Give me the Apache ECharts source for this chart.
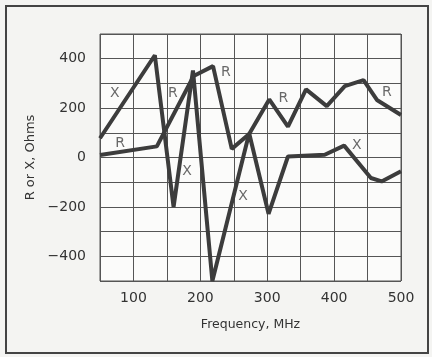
<!DOCTYPE html>
<html><head><meta charset="utf-8">
<script src="https://cdn.jsdelivr.net/npm/echarts@6/dist/echarts.min.js"></script>
<style>html,body{margin:0;padding:0;background:#f4f4f2;}#c{width:432px;height:357px;}</style>
</head><body><div id="c"></div>
<script>
// Frequency (MHz) and resistance R (Ohms)
const rFreq = [50, 135, 190, 219, 247, 273, 303, 331, 358, 389, 416, 444, 464, 500];
const rVals = [10, 45, 330, 370, 35, 95, 235, 125, 276, 208, 289, 313, 233, 172];
// Frequency (MHz) and reactance X (Ohms)
const xFreq = [50, 132, 160, 189, 218, 273, 302, 331, 386, 415, 455, 471, 500];
const xVals = [78, 414, -200, 352, -500, 98, -228, 4, 11, 48, -83, -97, -56];
// Curve annotations: frequency, value, text
const labFreq = [72, 80, 159, 180, 238, 264, 324, 434, 479];
const labVals = [261, 59, 261, -58, 345, -158, 240, 51, 265];
const labText = ['X', 'R', 'R', 'X', 'R', 'X', 'R', 'X', 'R'];
const yTicks = [-400, -200, 0, 200, 400];
const xTicks = [100, 200, 300, 400, 500];

const chart = echarts.init(document.getElementById('c'));
const fmtNum = v => (v < 0 ? '\u2212' + Math.abs(v) : String(v));
const lineStyle = {color: '#3c3c3c', width: 4};
chart.setOption({
  animation: false,
  backgroundColor: '#f4f4f2',
  graphic: [{type: 'rect', shape: {x: 6, y: 6, width: 422, height: 347},
    style: {fill: 'none', stroke: '#444', lineWidth: 2}}],
  grid: {left: 100, right: 31, top: 34, bottom: 76, show: true, borderColor: '#555', borderWidth: 1, backgroundColor: '#fbfbfa'},
  xAxis: {type: 'value', min: 50, max: 500, interval: 50,
    name: 'Frequency, MHz', nameLocation: 'middle', nameGap: 37,
    nameTextStyle: {fontFamily: 'DejaVu Sans', fontSize: 12.5, color: '#333'},
    axisLine: {show: false}, axisTick: {show: false},
    splitLine: {show: true, lineStyle: {color: '#555', width: 1}},
    axisLabel: {fontFamily: 'DejaVu Sans', fontSize: 14, color: '#333', margin: 10,
      formatter: v => xTicks.includes(v) ? String(v) : ''}},
  yAxis: {type: 'value', min: -500, max: 500, interval: 100,
    name: 'R or X, Ohms', nameLocation: 'middle', nameGap: 57, nameRotate: 90,
    nameTextStyle: {fontFamily: 'DejaVu Sans', fontSize: 13, color: '#333'},
    axisLine: {show: false}, axisTick: {show: false},
    splitLine: {show: true, lineStyle: {color: '#555', width: 1}},
    axisLabel: {fontFamily: 'DejaVu Sans', fontSize: 14, color: '#333', margin: 14,
      formatter: v => yTicks.includes(v) ? fmtNum(v) : ''}},
  series: [
    {type: 'line', name: 'R', data: rFreq.map((f, i) => [f, rVals[i]]), showSymbol: false,
      lineStyle: lineStyle, itemStyle: {color: '#3c3c3c'}, z: 3},
    {type: 'line', name: 'X', data: xFreq.map((f, i) => [f, xVals[i]]), showSymbol: false,
      lineStyle: lineStyle, itemStyle: {color: '#3c3c3c'}, z: 3},
    {type: 'scatter', data: labFreq.map((f, i) => [f, labVals[i], labText[i]]), symbolSize: 0,
      label: {show: true, position: 'inside', formatter: p => p.data[2],
        fontFamily: 'DejaVu Sans', fontSize: 14, color: '#444'}, z: 4}
  ]
});
</script></body></html>
